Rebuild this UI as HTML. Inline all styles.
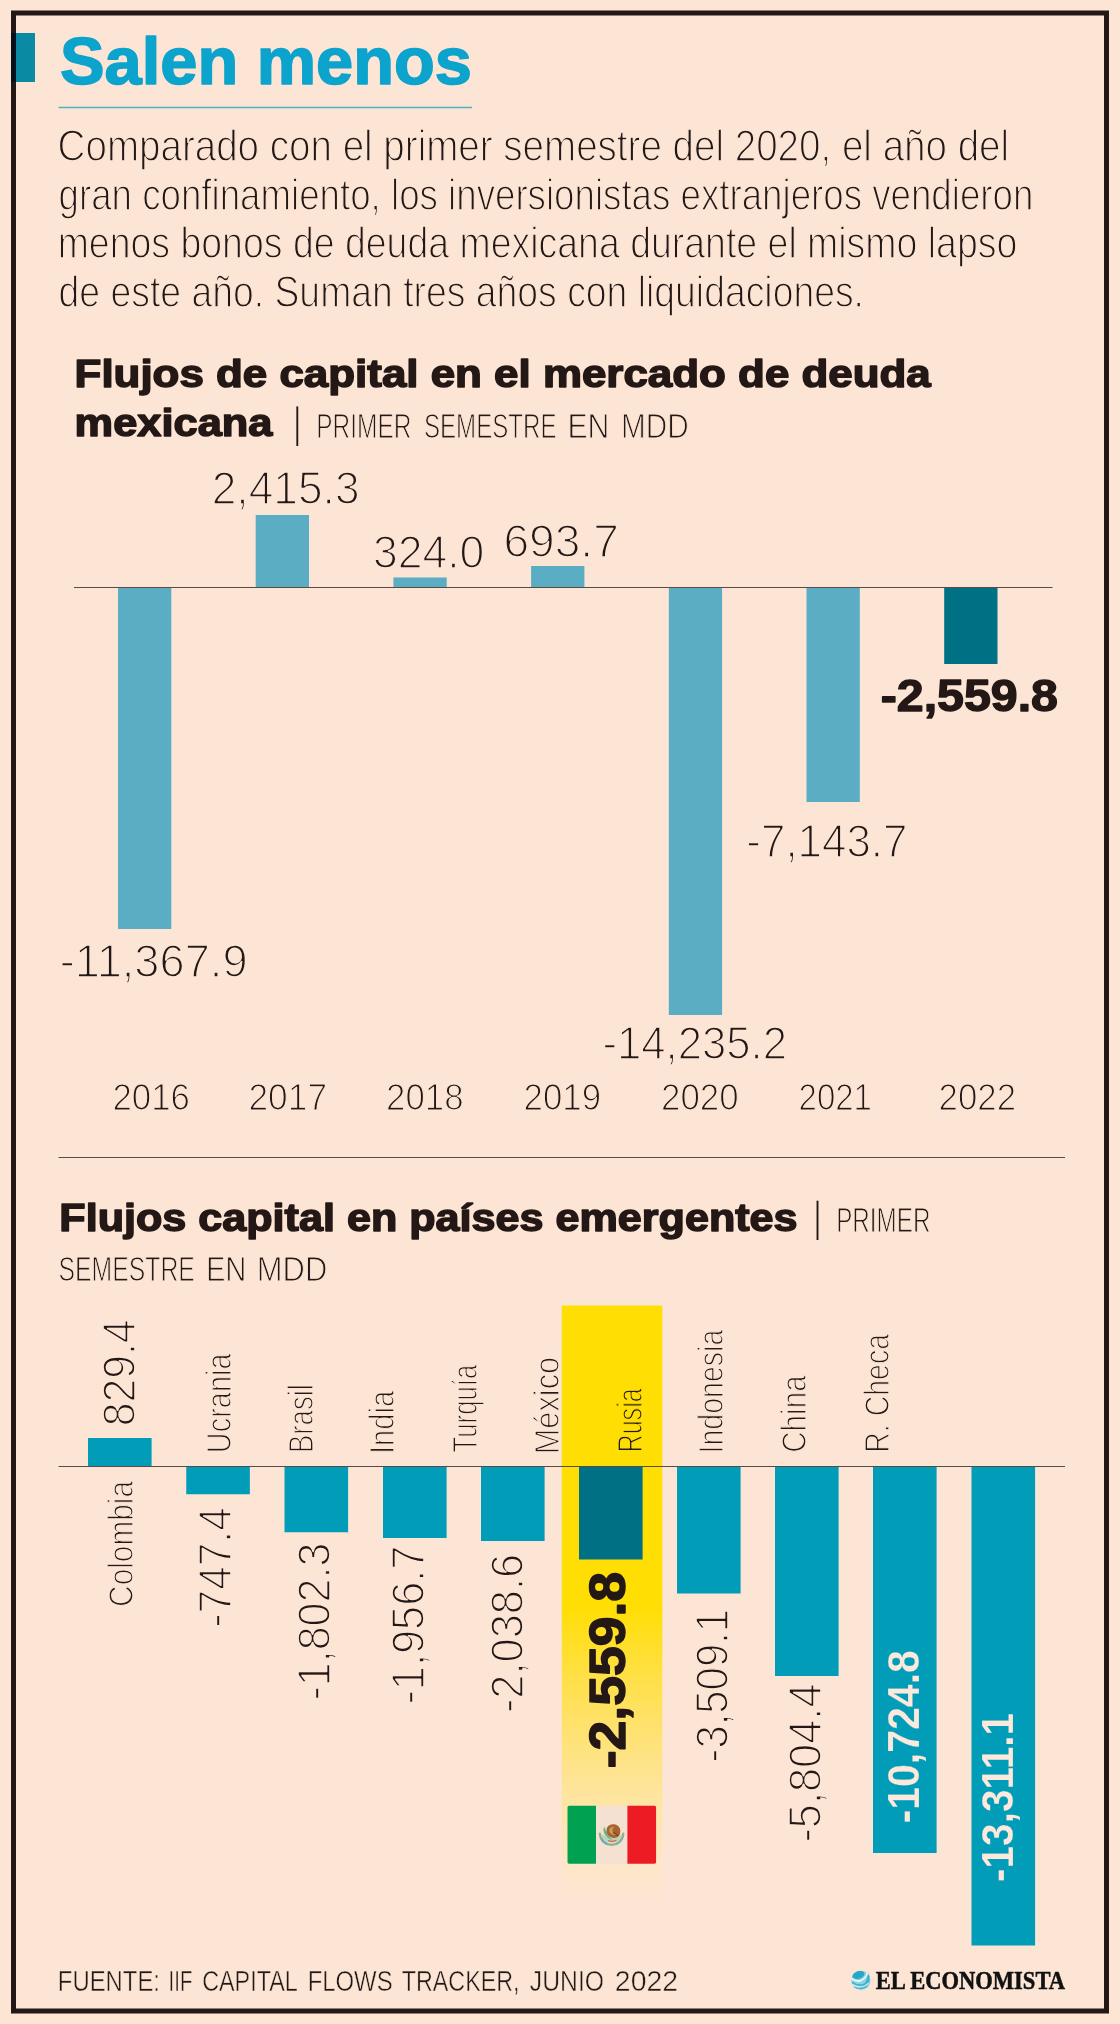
<!DOCTYPE html>
<html lang="es"><head><meta charset="utf-8"><title>Salen menos</title>
<style>
html,body{margin:0;padding:0;background:#fde5d6;}
body{width:1120px;height:2024px;overflow:hidden;font-family:"Liberation Sans",sans-serif;}
svg{display:block;will-change:transform}
text{white-space:pre}
</style></head><body>
<svg width="1120" height="2024" viewBox="0 0 1120 2024" shape-rendering="auto">
<defs><linearGradient id="yg" x1="0" y1="0" x2="0" y2="1"><stop offset="0" stop-color="#ffde03"/><stop offset="0.50" stop-color="#ffde03"/><stop offset="0.625" stop-color="#ffe04a"/><stop offset="0.765" stop-color="#fee38a"/><stop offset="0.825" stop-color="#fee5a2"/><stop offset="0.93" stop-color="#fee6c8"/><stop offset="1" stop-color="#fde5d6"/></linearGradient></defs>
<rect x="0.00" y="0.00" width="1120.00" height="2024.00" fill="#fde5d6" />
<rect x="13.5" y="13" width="1093" height="1998" fill="none" stroke="#231815" stroke-width="5"/>
<rect x="11.00" y="33.00" width="24.00" height="49.00" fill="#0a8aa3" />
<rect x="11.00" y="33.00" width="5.00" height="49.00" fill="#04101c" />
<line x1="58.5" y1="107.5" x2="472" y2="107.5" stroke="#4fb3c6" stroke-width="1.5"/>
<line x1="297.3" y1="406.4" x2="297.3" y2="446" stroke="#231815" stroke-width="1.9"/>
<line x1="817.5" y1="1200.7" x2="817.5" y2="1240" stroke="#231815" stroke-width="1.9"/>
<rect x="118.00" y="587.50" width="53.30" height="341.50" fill="#5badc3" />
<rect x="255.70" y="515.00" width="53.30" height="72.50" fill="#5badc3" />
<rect x="393.40" y="577.50" width="53.30" height="10.00" fill="#5badc3" />
<rect x="531.10" y="566.00" width="53.30" height="21.50" fill="#5badc3" />
<rect x="668.80" y="587.50" width="53.30" height="427.50" fill="#5badc3" />
<rect x="806.50" y="587.50" width="53.30" height="214.50" fill="#5badc3" />
<rect x="944.20" y="587.50" width="53.30" height="76.50" fill="#007084" />
<line x1="74" y1="587.5" x2="1052.5" y2="587.5" stroke="#5a4a44" stroke-width="1.1"/>
<line x1="58.5" y1="1157.5" x2="1065" y2="1157.5" stroke="#5a4a44" stroke-width="1.1"/>
<rect x="561.75" y="1305.50" width="100.55" height="600.50" fill="url(#yg)" />
<rect x="88.00" y="1438.00" width="63.60" height="28.50" fill="#009cb8" />
<rect x="186.25" y="1466.50" width="63.60" height="27.75" fill="#009cb8" />
<rect x="284.50" y="1466.50" width="63.60" height="65.75" fill="#009cb8" />
<rect x="383.00" y="1466.50" width="63.60" height="71.50" fill="#009cb8" />
<rect x="481.00" y="1466.50" width="63.60" height="74.50" fill="#009cb8" />
<rect x="579.00" y="1466.50" width="63.60" height="93.00" fill="#007084" />
<rect x="677.00" y="1466.50" width="63.60" height="127.00" fill="#009cb8" />
<rect x="775.00" y="1466.50" width="63.60" height="209.50" fill="#009cb8" />
<rect x="873.00" y="1466.50" width="63.60" height="386.50" fill="#009cb8" />
<rect x="971.50" y="1466.50" width="63.60" height="479.00" fill="#009cb8" />
<line x1="58.5" y1="1466.5" x2="1065" y2="1466.5" stroke="#5a4a44" stroke-width="1.1"/>
<g>
<clipPath id="fc"><rect x="567.3" y="1805.8" width="88.9" height="58" rx="1.8"/></clipPath>
<g clip-path="url(#fc)">
<rect x="567.30" y="1805.00" width="28.70" height="59.50" fill="#00a150" />
<rect x="596.00" y="1805.00" width="31.40" height="59.50" fill="#f4e1d2" />
<rect x="627.40" y="1805.00" width="28.90" height="59.50" fill="#ed1c24" />
</g>
<path d="M601.5 1834.5 a10.2 9.6 0 0 0 20.2 0 q-10 6 -20.2 0z" fill="#a9c9a6" opacity="0.7"/>
<path d="M599.9 1833.6 a11.7 11.2 0 0 0 23.4 0" fill="none" stroke="#8fb08f" stroke-width="2.2" stroke-linecap="round"/>
<path d="M601.2 1838.2 a11.7 11.2 0 0 0 6.5 6" fill="none" stroke="#6aaebb" stroke-width="2.2"/>
<path d="M616 1844.2 a11.7 11.2 0 0 0 5.8 -5.2" fill="none" stroke="#7fb6a8" stroke-width="2.2"/>
<path d="M604.2 1826.5 q-1.8 4.5 0.8 8.5 q3.2 4 7.5 5.4 q-2.6 -3.2 -4.4 -6.4 q-2.6 -3.6 -3.9 -7.5z" fill="#6db585"/>
<path d="M606.6 1832 q-1 -6 4.6 -7.6 q6.6 -1.2 8.8 4.4 q1.4 5.4 -2.6 8.2 q-3.2 1.6 -5.8 0.4 q-4 -1.6 -5 -5.4z" fill="#a8632f"/>
<path d="M609.2 1829.4 q1.6 -3.4 5.4 -2.6 q-2.8 1.6 -2 4.6 q1.4 2.6 4.4 3 q-4.6 1.6 -7 -1.6 q-0.9 -1.6 -0.8 -3.4z" fill="#cf9a5e"/>
<path d="M613 1832.4 q3 1.2 5.2 3.6" fill="none" stroke="#7a4420" stroke-width="1.2"/>
<path d="M608 1840.6 q4 1.8 8.4 -0.4" fill="none" stroke="#c9705a" stroke-width="1.1"/>
</g>
<g>
<clipPath id="gc"><circle cx="861" cy="1980.2" r="9.8"/></clipPath>
<g clip-path="url(#gc)">
<circle cx="861" cy="1980.2" r="9.8" fill="#8ad3e2"/>
<ellipse cx="858.3" cy="1974.8" rx="6.2" ry="4" transform="rotate(-14 858.3 1974.8)" fill="#27a8c6"/>
<path d="M866 1970.5 q5.5 5 2.5 12 q-4 6 -12 5.5 q9 -2 10.5 -9.5 q0.6 -4.5 -1 -8z" fill="#3db2cf"/>
<path d="M851.6 1978.6 q8.5 6.5 15 -3.2 q1.2 -2.6 0.4 -5" fill="none" stroke="#f2f7f9" stroke-width="1.7" stroke-linecap="round"/>
<path d="M851.5 1982.2 q9 6.5 17.5 -1.5" fill="none" stroke="#3fb2cf" stroke-width="1.5"/>
<path d="M852.5 1984.6 q8.5 5.5 16 -1.5" fill="none" stroke="#d3eff5" stroke-width="1.2"/>
<path d="M854 1987 q7 4 13.5 -1.2" fill="none" stroke="#4cb8d2" stroke-width="1.4"/>
</g></g>
<text transform="translate(60.30 84.30) scale(1.0038 1)" x="-0.20" y="-0.80" style="font-family:'Liberation Sans', sans-serif;font-size:66.5px;font-weight:bold;fill:#0ca3cd;stroke:#0ca3cd;stroke-width:1.6px;stroke-linejoin:round">Salen menos</text>
<text transform="translate(60.00 160.40) scale(0.8866 1)" x="-2.70" y="0.70" style="font-family:'Liberation Sans', sans-serif;font-size:43.5px;font-weight:normal;fill:#231815;stroke:#fde5d6;stroke-width:1.4px;stroke-linejoin:round">Comparado con el primer semestre del 2020, el año del</text>
<text transform="translate(60.00 209.00) scale(0.8435 1)" x="-1.70" y="0.70" style="font-family:'Liberation Sans', sans-serif;font-size:43.5px;font-weight:normal;fill:#231815;stroke:#fde5d6;stroke-width:1.4px;stroke-linejoin:round">gran confinamiento, los inversionistas extranjeros vendieron</text>
<text transform="translate(60.00 257.50) scale(0.8611 1)" x="-2.70" y="0.70" style="font-family:'Liberation Sans', sans-serif;font-size:43.5px;font-weight:normal;fill:#231815;stroke:#fde5d6;stroke-width:1.4px;stroke-linejoin:round">menos bonos de deuda mexicana durante el mismo lapso</text>
<text transform="translate(60.00 306.00) scale(0.8587 1)" x="-1.70" y="0.70" style="font-family:'Liberation Sans', sans-serif;font-size:43.5px;font-weight:normal;fill:#231815;stroke:#fde5d6;stroke-width:1.4px;stroke-linejoin:round">de este año. Suman tres años con liquidaciones.</text>
<text transform="translate(76.00 388.00) scale(1.1404 1)" x="-1.25" y="-0.75" style="font-family:'Liberation Sans', sans-serif;font-size:38.5px;font-weight:bold;fill:#231815;stroke:#231815;stroke-width:1.5px;stroke-linejoin:round">Flujos de capital en el mercado de deuda</text>
<text transform="translate(76.00 437.00) scale(1.1276 1)" x="-1.25" y="-0.75" style="font-family:'Liberation Sans', sans-serif;font-size:38.5px;font-weight:bold;fill:#231815;stroke:#231815;stroke-width:1.5px;stroke-linejoin:round">mexicana</text>
<text transform="translate(318.00 437.60) scale(0.7093 1)" x="-2.50" y="0.50" style="font-family:'Liberation Sans', sans-serif;font-size:34.5px;font-weight:normal;fill:#231815;stroke:#fde5d6;stroke-width:1.0px;stroke-linejoin:round">PRIMER</text>
<text transform="translate(425.00 437.60) scale(0.6982 1)" x="-1.50" y="0.50" style="font-family:'Liberation Sans', sans-serif;font-size:34.5px;font-weight:normal;fill:#231815;stroke:#fde5d6;stroke-width:1.0px;stroke-linejoin:round">SEMESTRE</text>
<text transform="translate(569.60 437.60) scale(0.8765 1)" x="-2.50" y="0.50" style="font-family:'Liberation Sans', sans-serif;font-size:34.5px;font-weight:normal;fill:#231815;stroke:#fde5d6;stroke-width:1.0px;stroke-linejoin:round">EN</text>
<text transform="translate(623.20 437.60) scale(0.8613 1)" x="-2.50" y="0.50" style="font-family:'Liberation Sans', sans-serif;font-size:34.5px;font-weight:normal;fill:#231815;stroke:#fde5d6;stroke-width:1.0px;stroke-linejoin:round">MDD</text>
<text transform="translate(214.40 503.50) scale(0.9527 1)" x="-2.80" y="0.80" style="font-family:'Liberation Sans', sans-serif;font-size:46.5px;font-weight:normal;fill:#231815;stroke:#fde5d6;stroke-width:1.6px;stroke-linejoin:round">2,415.3</text>
<text transform="translate(374.60 567.50) scale(0.9575 1)" x="-1.80" y="0.80" style="font-family:'Liberation Sans', sans-serif;font-size:46.5px;font-weight:normal;fill:#231815;stroke:#fde5d6;stroke-width:1.6px;stroke-linejoin:round">324.0</text>
<text transform="translate(506.20 555.80) scale(0.9919 1)" x="-2.80" y="0.80" style="font-family:'Liberation Sans', sans-serif;font-size:46.5px;font-weight:normal;fill:#231815;stroke:#fde5d6;stroke-width:1.6px;stroke-linejoin:round">693.7</text>
<text transform="translate(62.50 976.60) scale(0.9729 1)" x="-2.80" y="0.80" style="font-family:'Liberation Sans', sans-serif;font-size:46.5px;font-weight:normal;fill:#231815;stroke:#fde5d6;stroke-width:1.6px;stroke-linejoin:round">-11,367.9</text>
<text transform="translate(605.00 1058.60) scale(0.9396 1)" x="-2.80" y="0.80" style="font-family:'Liberation Sans', sans-serif;font-size:46.5px;font-weight:normal;fill:#231815;stroke:#fde5d6;stroke-width:1.6px;stroke-linejoin:round">-14,235.2</text>
<text transform="translate(749.00 856.60) scale(0.9445 1)" x="-2.80" y="0.80" style="font-family:'Liberation Sans', sans-serif;font-size:46.5px;font-weight:normal;fill:#231815;stroke:#fde5d6;stroke-width:1.6px;stroke-linejoin:round">-7,143.7</text>
<text transform="translate(881.00 712.00) scale(1.0863 1)" x="-0.30" y="-0.70" style="font-family:'Liberation Sans', sans-serif;font-size:44.5px;font-weight:bold;fill:#231815;stroke:#231815;stroke-width:1.4px;stroke-linejoin:round">-2,559.8</text>
<text transform="translate(113.90 1109.40) scale(0.9423 1)" x="-1.60" y="0.60" style="font-family:'Liberation Sans', sans-serif;font-size:37px;font-weight:normal;fill:#231815;stroke:#fde5d6;stroke-width:1.2px;stroke-linejoin:round">2016</text>
<text transform="translate(250.00 1109.40) scale(0.9550 1)" x="-1.60" y="0.60" style="font-family:'Liberation Sans', sans-serif;font-size:37px;font-weight:normal;fill:#231815;stroke:#fde5d6;stroke-width:1.2px;stroke-linejoin:round">2017</text>
<text transform="translate(387.50 1109.40) scale(0.9423 1)" x="-1.60" y="0.60" style="font-family:'Liberation Sans', sans-serif;font-size:37px;font-weight:normal;fill:#231815;stroke:#fde5d6;stroke-width:1.2px;stroke-linejoin:round">2018</text>
<text transform="translate(525.00 1109.40) scale(0.9423 1)" x="-1.60" y="0.60" style="font-family:'Liberation Sans', sans-serif;font-size:37px;font-weight:normal;fill:#231815;stroke:#fde5d6;stroke-width:1.2px;stroke-linejoin:round">2019</text>
<text transform="translate(662.50 1109.40) scale(0.9430 1)" x="-1.60" y="0.60" style="font-family:'Liberation Sans', sans-serif;font-size:37px;font-weight:normal;fill:#231815;stroke:#fde5d6;stroke-width:1.2px;stroke-linejoin:round">2020</text>
<text transform="translate(800.00 1109.40) scale(0.8913 1)" x="-1.60" y="0.60" style="font-family:'Liberation Sans', sans-serif;font-size:37px;font-weight:normal;fill:#231815;stroke:#fde5d6;stroke-width:1.2px;stroke-linejoin:round">2021</text>
<text transform="translate(940.00 1109.40) scale(0.9423 1)" x="-1.60" y="0.60" style="font-family:'Liberation Sans', sans-serif;font-size:37px;font-weight:normal;fill:#231815;stroke:#fde5d6;stroke-width:1.2px;stroke-linejoin:round">2022</text>
<text transform="translate(60.70 1231.50) scale(1.1205 1)" x="-1.25" y="-0.75" style="font-family:'Liberation Sans', sans-serif;font-size:38.5px;font-weight:bold;fill:#231815;stroke:#231815;stroke-width:1.5px;stroke-linejoin:round">Flujos capital en países emergentes</text>
<text transform="translate(837.90 1231.70) scale(0.7032 1)" x="-2.50" y="0.50" style="font-family:'Liberation Sans', sans-serif;font-size:34.5px;font-weight:normal;fill:#231815;stroke:#fde5d6;stroke-width:1.0px;stroke-linejoin:round">PRIMER</text>
<text transform="translate(59.50 1280.70) scale(0.7191 1)" x="-1.50" y="0.50" style="font-family:'Liberation Sans', sans-serif;font-size:34.5px;font-weight:normal;fill:#231815;stroke:#fde5d6;stroke-width:1.0px;stroke-linejoin:round">SEMESTRE</text>
<text transform="translate(208.00 1280.70) scale(0.8463 1)" x="-2.50" y="0.50" style="font-family:'Liberation Sans', sans-serif;font-size:34.5px;font-weight:normal;fill:#231815;stroke:#fde5d6;stroke-width:1.0px;stroke-linejoin:round">EN</text>
<text transform="translate(259.00 1280.70) scale(0.8975 1)" x="-2.50" y="0.50" style="font-family:'Liberation Sans', sans-serif;font-size:34.5px;font-weight:normal;fill:#231815;stroke:#fde5d6;stroke-width:1.0px;stroke-linejoin:round">MDD</text>
<text transform="translate(132.40 1605.50) rotate(-90) scale(0.8400 1)" x="-1.65" y="0.65" style="font-family:'Liberation Sans', sans-serif;font-size:35.5px;font-weight:normal;fill:#231815;stroke:#fde5d6;stroke-width:1.3px;stroke-linejoin:round">Colombia</text>
<text transform="translate(230.15 1451.00) rotate(-90) scale(0.8153 1)" x="-2.65" y="0.65" style="font-family:'Liberation Sans', sans-serif;font-size:35.5px;font-weight:normal;fill:#231815;stroke:#fde5d6;stroke-width:1.3px;stroke-linejoin:round">Ucrania</text>
<text transform="translate(311.90 1451.00) rotate(-90) scale(0.7777 1)" x="-2.65" y="0.65" style="font-family:'Liberation Sans', sans-serif;font-size:35.5px;font-weight:normal;fill:#231815;stroke:#fde5d6;stroke-width:1.3px;stroke-linejoin:round">Brasil</text>
<text transform="translate(393.65 1451.00) rotate(-90) scale(0.8226 1)" x="-3.65" y="0.65" style="font-family:'Liberation Sans', sans-serif;font-size:35.5px;font-weight:normal;fill:#231815;stroke:#fde5d6;stroke-width:1.3px;stroke-linejoin:round">India</text>
<text transform="translate(476.40 1452.00) rotate(-90) scale(0.7251 1)" x="-0.65" y="0.65" style="font-family:'Liberation Sans', sans-serif;font-size:35.5px;font-weight:normal;fill:#231815;stroke:#fde5d6;stroke-width:1.3px;stroke-linejoin:round">Turquía</text>
<text transform="translate(558.65 1452.00) rotate(-90) scale(0.8671 1)" x="-2.65" y="0.65" style="font-family:'Liberation Sans', sans-serif;font-size:35.5px;font-weight:normal;fill:#231815;stroke:#fde5d6;stroke-width:1.3px;stroke-linejoin:round">México</text>
<text transform="translate(641.40 1450.60) rotate(-90) scale(0.7068 1)" x="-2.65" y="0.65" style="font-family:'Liberation Sans', sans-serif;font-size:35.5px;font-weight:normal;fill:#231815;stroke:#ffde03;stroke-width:1.3px;stroke-linejoin:round">Rusia</text>
<text transform="translate(722.80 1450.60) rotate(-90) scale(0.8044 1)" x="-3.65" y="0.65" style="font-family:'Liberation Sans', sans-serif;font-size:35.5px;font-weight:normal;fill:#231815;stroke:#fde5d6;stroke-width:1.3px;stroke-linejoin:round">Indonesia</text>
<text transform="translate(805.10 1451.40) rotate(-90) scale(0.8345 1)" x="-1.65" y="0.65" style="font-family:'Liberation Sans', sans-serif;font-size:35.5px;font-weight:normal;fill:#231815;stroke:#fde5d6;stroke-width:1.3px;stroke-linejoin:round">China</text>
<text transform="translate(888.00 1450.60) rotate(-90) scale(0.8024 1)" x="-2.65" y="0.65" style="font-family:'Liberation Sans', sans-serif;font-size:35.5px;font-weight:normal;fill:#231815;stroke:#fde5d6;stroke-width:1.3px;stroke-linejoin:round">R. Checa</text>
<text transform="translate(133.75 1423.75) rotate(-90) scale(0.9182 1)" x="-2.80" y="0.80" style="font-family:'Liberation Sans', sans-serif;font-size:46.5px;font-weight:normal;fill:#231815;stroke:#fde5d6;stroke-width:1.6px;stroke-linejoin:round">829.4</text>
<text transform="translate(230.00 1625.00) rotate(-90) scale(0.9126 1)" x="-2.80" y="0.80" style="font-family:'Liberation Sans', sans-serif;font-size:46.5px;font-weight:normal;fill:#231815;stroke:#fde5d6;stroke-width:1.6px;stroke-linejoin:round">-747.4</text>
<text transform="translate(329.50 1698.00) rotate(-90) scale(0.9263 1)" x="-2.80" y="0.80" style="font-family:'Liberation Sans', sans-serif;font-size:46.5px;font-weight:normal;fill:#231815;stroke:#fde5d6;stroke-width:1.6px;stroke-linejoin:round">-1,802.3</text>
<text transform="translate(423.00 1702.00) rotate(-90) scale(0.9324 1)" x="-2.80" y="0.80" style="font-family:'Liberation Sans', sans-serif;font-size:46.5px;font-weight:normal;fill:#231815;stroke:#fde5d6;stroke-width:1.6px;stroke-linejoin:round">-1,956.7</text>
<text transform="translate(522.50 1710.50) rotate(-90) scale(0.9339 1)" x="-2.80" y="0.80" style="font-family:'Liberation Sans', sans-serif;font-size:46.5px;font-weight:normal;fill:#231815;stroke:#fde5d6;stroke-width:1.6px;stroke-linejoin:round">-2,038.6</text>
<text transform="translate(626.00 1768.00) rotate(-90) scale(1.0701 1)" x="-0.25" y="-0.75" style="font-family:'Liberation Sans', sans-serif;font-size:50px;font-weight:bold;fill:#231815;stroke:#231815;stroke-width:1.5px;stroke-linejoin:round">-2,559.8</text>
<text transform="translate(727.00 1760.00) rotate(-90) scale(0.9006 1)" x="-2.80" y="0.80" style="font-family:'Liberation Sans', sans-serif;font-size:46.5px;font-weight:normal;fill:#231815;stroke:#fde5d6;stroke-width:1.6px;stroke-linejoin:round">-3,509.1</text>
<text transform="translate(820.00 1840.00) rotate(-90) scale(0.9328 1)" x="-2.80" y="0.80" style="font-family:'Liberation Sans', sans-serif;font-size:46.5px;font-weight:normal;fill:#231815;stroke:#fde5d6;stroke-width:1.6px;stroke-linejoin:round">-5,804.4</text>
<text transform="translate(918.75 1822.50) rotate(-90) scale(0.9439 1)" x="-1.10" y="0.10" style="font-family:'Liberation Sans', sans-serif;font-size:43.5px;font-weight:bold;fill:#fde9dc;stroke:#009cb8;stroke-width:0.2px;stroke-linejoin:round">-10,724.8</text>
<text transform="translate(1013.00 1881.00) rotate(-90) scale(0.9019 1)" x="-1.10" y="0.10" style="font-family:'Liberation Sans', sans-serif;font-size:45px;font-weight:bold;fill:#fde9dc;stroke:#009cb8;stroke-width:0.2px;stroke-linejoin:round">-13,311.1</text>
<text transform="translate(59.60 1990.40) scale(0.7884 1)" x="-2.25" y="0.25" style="font-family:'Liberation Sans', sans-serif;font-size:30.3px;font-weight:normal;fill:#231815;stroke:#fde5d6;stroke-width:0.5px;stroke-linejoin:round">FUENTE:</text>
<text transform="translate(170.10 1990.40) scale(0.6711 1)" x="-2.25" y="0.25" style="font-family:'Liberation Sans', sans-serif;font-size:30.3px;font-weight:normal;fill:#231815;stroke:#fde5d6;stroke-width:0.5px;stroke-linejoin:round">IIF</text>
<text transform="translate(203.10 1990.40) scale(0.7709 1)" x="-1.25" y="0.25" style="font-family:'Liberation Sans', sans-serif;font-size:30.3px;font-weight:normal;fill:#231815;stroke:#fde5d6;stroke-width:0.5px;stroke-linejoin:round">CAPITAL</text>
<text transform="translate(309.40 1990.40) scale(0.7893 1)" x="-2.25" y="0.25" style="font-family:'Liberation Sans', sans-serif;font-size:30.3px;font-weight:normal;fill:#231815;stroke:#fde5d6;stroke-width:0.5px;stroke-linejoin:round">FLOWS</text>
<text transform="translate(401.90 1990.40) scale(0.7693 1)" x="-0.25" y="0.25" style="font-family:'Liberation Sans', sans-serif;font-size:30.3px;font-weight:normal;fill:#231815;stroke:#fde5d6;stroke-width:0.5px;stroke-linejoin:round">TRACKER,</text>
<text transform="translate(530.00 1990.40) scale(0.8171 1)" x="-0.25" y="0.25" style="font-family:'Liberation Sans', sans-serif;font-size:30.3px;font-weight:normal;fill:#231815;stroke:#fde5d6;stroke-width:0.5px;stroke-linejoin:round">JUNIO</text>
<text transform="translate(616.00 1990.40) scale(0.9378 1)" x="-1.25" y="0.25" style="font-family:'Liberation Sans', sans-serif;font-size:30.3px;font-weight:normal;fill:#231815;stroke:#fde5d6;stroke-width:0.5px;stroke-linejoin:round">2022</text>
<text transform="translate(875.50 1988.80) scale(0.9017 1)" x="0.25" y="-0.25" style="font-family:'Liberation Serif', serif;font-size:25px;font-weight:bold;fill:#111;stroke:#111;stroke-width:0.5px;stroke-linejoin:round">EL ECONOMISTA</text>
</svg>
</body></html>
